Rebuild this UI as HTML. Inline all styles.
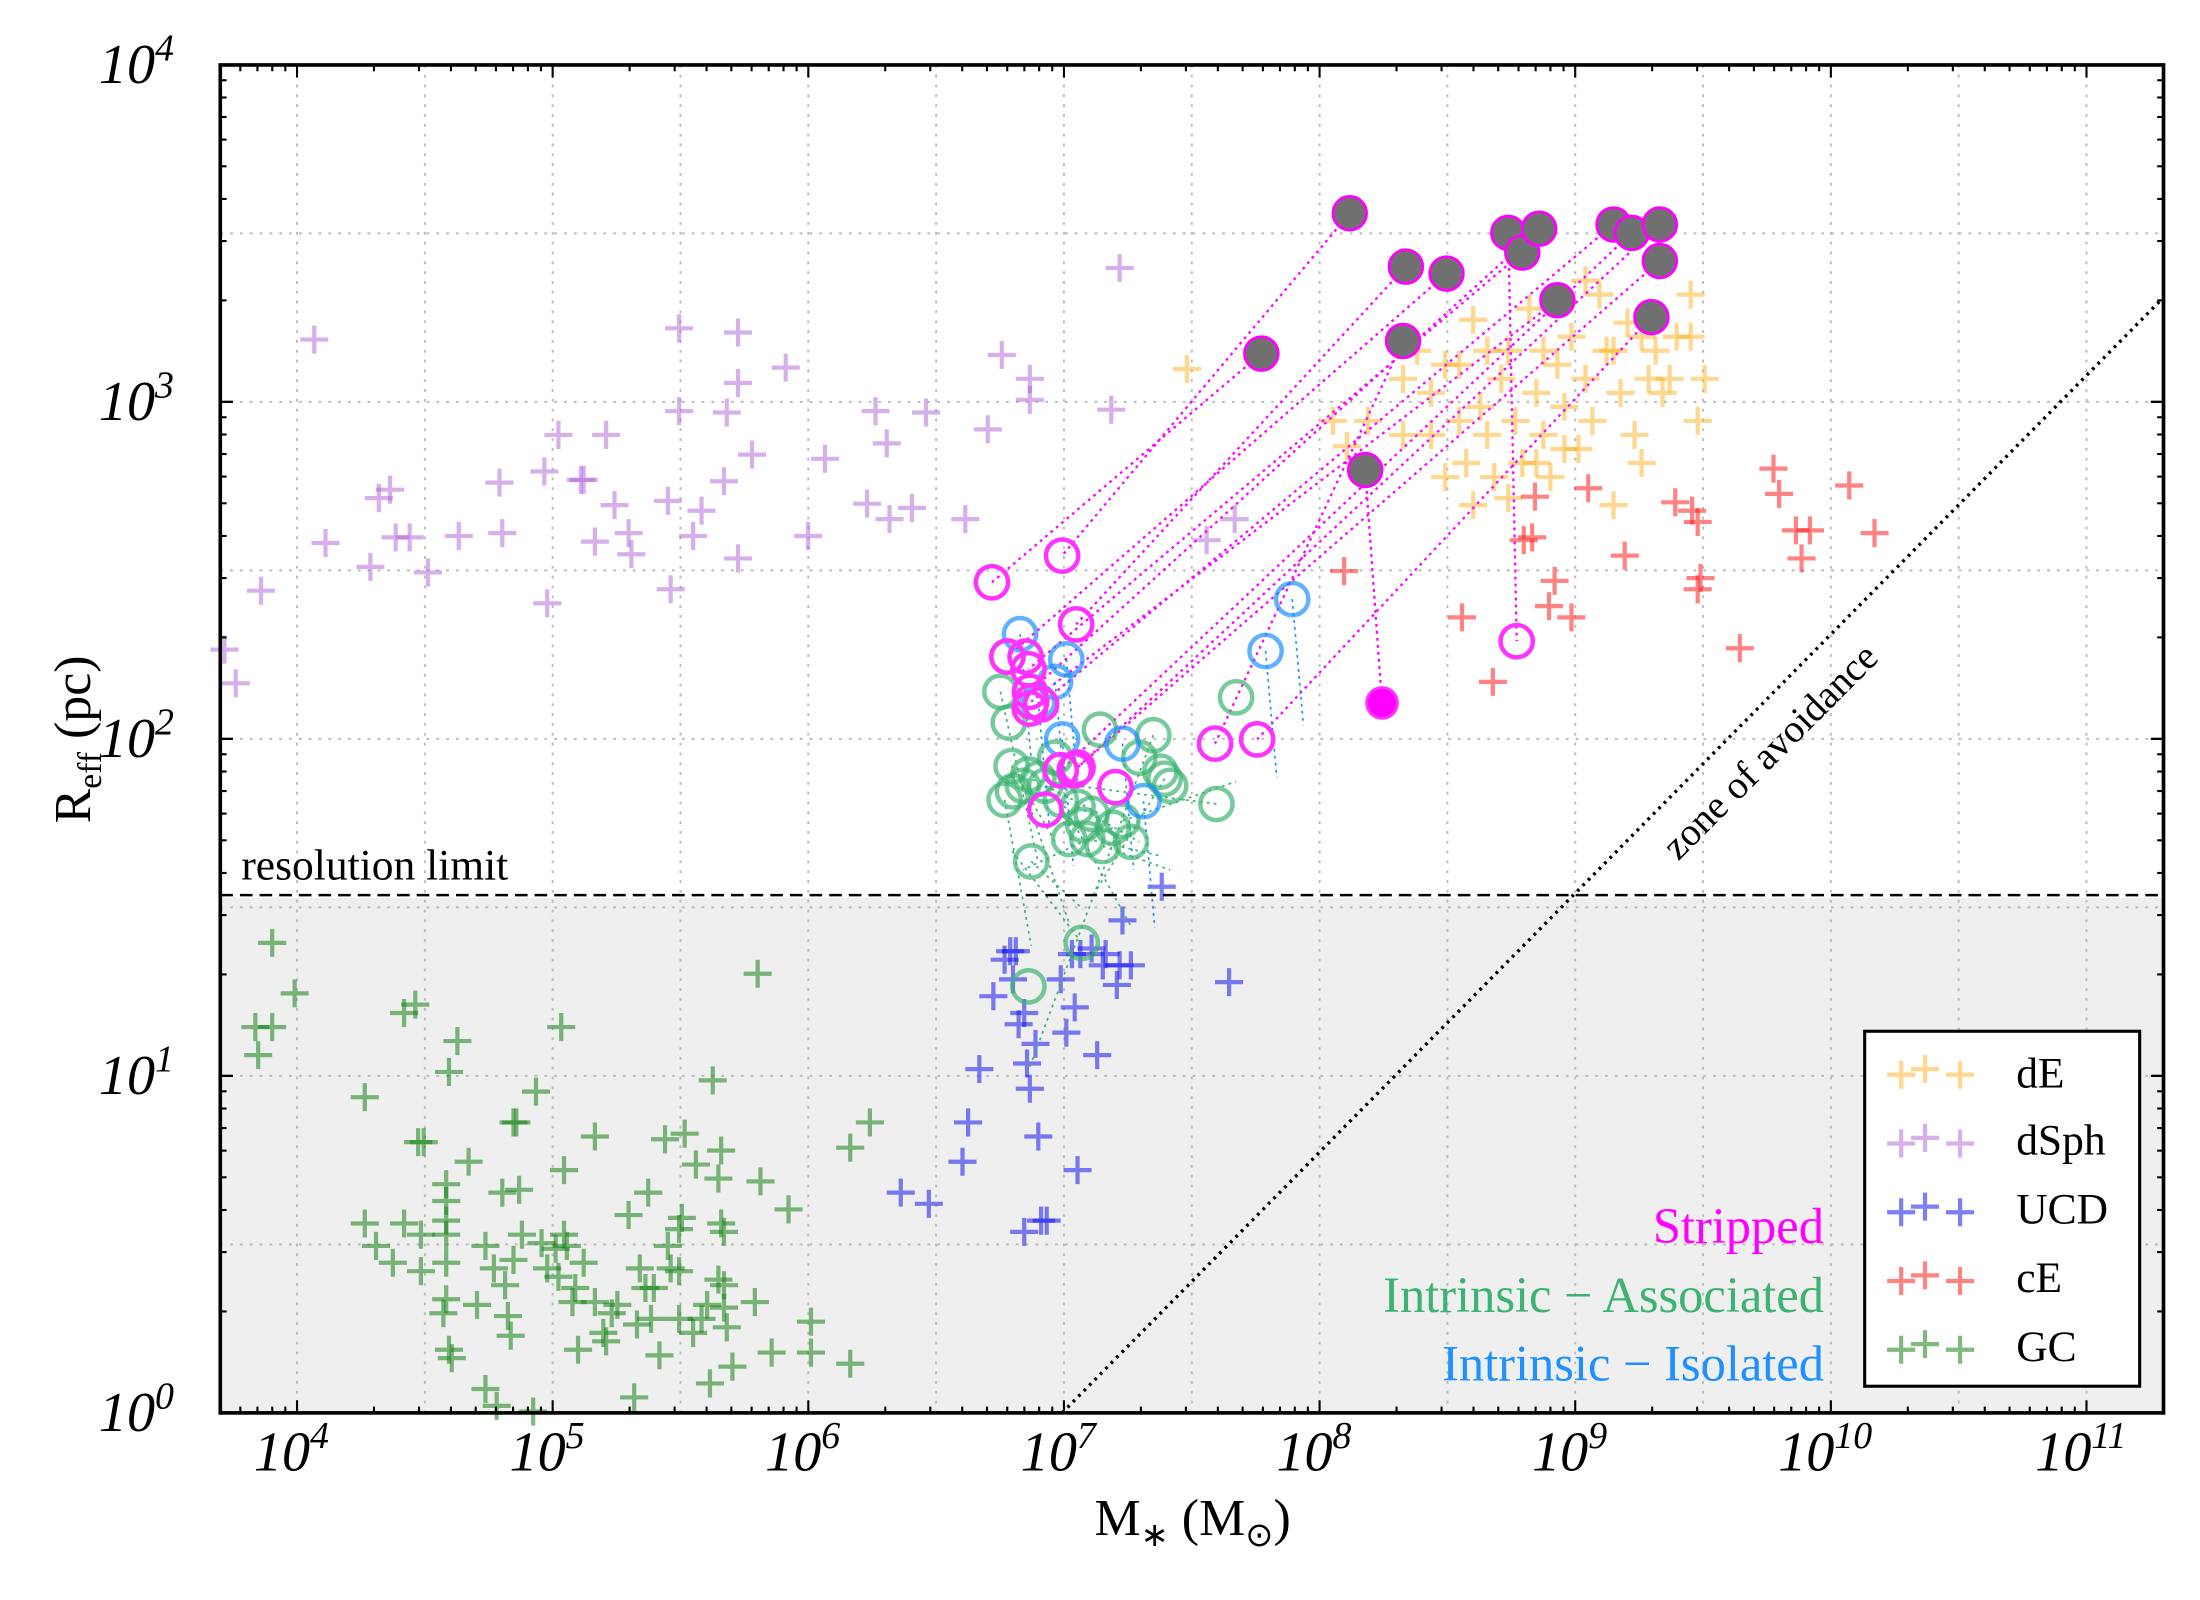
<!DOCTYPE html>
<html><head><meta charset="utf-8"><style>
html,body{margin:0;padding:0;background:#fff;}
svg{display:block;}
text{font-family:"Liberation Serif",serif;}
</style></head><body>
<svg id="s" width="2200" height="1600" viewBox="0 0 1568 1140.36" xmlns="http://www.w3.org/2000/svg">
<rect x="0" y="0" width="1568" height="1141" fill="#fff"/>
<rect x="157" y="640" width="1385" height="367" fill="#efefef"/>
<g id="grid"></g>
<g id="pts"></g>
<line x1="157" y1="638" x2="1542" y2="638" stroke="#000" stroke-width="1.8" stroke-dasharray="9,5"/>
<line x1="757" y1="1007" x2="1542" y2="212" stroke="#000" stroke-width="2.4" stroke-dasharray="2,3.5"/>
<g id="ticks"></g>
<rect x="157" y="46.3" width="1385" height="960.7" fill="none" stroke="#000" stroke-width="2.6"/>
<text x="172" y="627" font-size="31">resolution limit</text>
<text transform="translate(1268,542) rotate(-45)" text-anchor="middle" font-size="28">zone of avoidance</text>
<text x="1300" y="886" text-anchor="end" font-size="36" fill="#ff00ff">Stripped</text>
<text x="1300" y="935" text-anchor="end" font-size="36" fill="#3cb371">Intrinsic − Associated</text>
<text x="1300" y="984" text-anchor="end" font-size="36" fill="#1e90ff">Intrinsic − Isolated</text>
<rect x="1329" y="735" width="196" height="253" fill="#fff" stroke="#000" stroke-width="2.2"/>
<g id="leg"></g>
<text x="1437" y="775" font-size="31">dE</text>
<text x="1437" y="823" font-size="31">dSph</text>
<text x="1437" y="872" font-size="31">UCD</text>
<text x="1437" y="921" font-size="31">cE</text>
<text x="1437" y="970" font-size="31">GC</text>
<text transform="translate(64,527) rotate(-90)" text-anchor="middle" font-size="37">R<tspan font-size="24" dy="8">eff</tspan><tspan dy="-8"> (pc)</tspan></text>
<text x="850" y="1094" text-anchor="middle" font-size="37">M<tspan font-size="24" dy="8">∗</tspan><tspan dy="-8"> (M</tspan><tspan font-size="24" dy="8">⊙</tspan><tspan dy="-8">)</tspan></text>
<g id="lbl" font-style="italic" font-size="40"></g>
</svg>
<script>
const NS="http://www.w3.org/2000/svg";
function el(p,t,a){const e=document.createElementNS(NS,t);for(const k in a)e.setAttribute(k,a[k]);document.getElementById(p).appendChild(e);return e;}
const L=157,R=1542,T=46.3,B=1007;
const X=v=>211.7+(v-4)*182.2, Y=v=>1007-v*240.2;
for(let d=3.5;d<=11.3;d+=0.5){const x=X(d);if(x>L+2&&x<R-2)el("grid","line",{x1:x,y1:T,x2:x,y2:B,stroke:"#bbb","stroke-width":1.4,"stroke-dasharray":"2,5"});}
for(let d=0.5;d<4;d+=0.5){const y=Y(d);el("grid","line",{x1:L,y1:y,x2:R,y2:y,stroke:"#bbb","stroke-width":1.4,"stroke-dasharray":"2,5"});}
for(let d=3;d<=11;d++){for(let m=1;m<10;m++){const x=X(d+Math.log10(m));if(x<L||x>R)continue;const l=m==1?9:4.5;
el("ticks","line",{x1:x,y1:B,x2:x,y2:B-l,stroke:"#000","stroke-width":1.5});el("ticks","line",{x1:x,y1:T,x2:x,y2:T+l,stroke:"#000","stroke-width":1.5});}}
for(let d=0;d<4;d++){for(let m=1;m<=10;m++){const y=Y(d+Math.log10(m));const l=(m==1||m==10)?9:4.5;
el("ticks","line",{x1:L,y1:y,x2:L+l,y2:y,stroke:"#000","stroke-width":1.5});el("ticks","line",{x1:R,y1:y,x2:R-l,y2:y,stroke:"#000","stroke-width":1.5});}}
for(let d=4;d<=11;d++){const t=el("lbl","text",{x:X(d)-4,y:1048,"text-anchor":"middle"});t.textContent="10";const s=document.createElementNS(NS,"tspan");s.setAttribute("dy","-16");s.setAttribute("font-size","27");s.textContent=d;t.appendChild(s);}
for(let d=0;d<=4;d++){const t=el("lbl","text",{x:124,y:Y(d)+13,"text-anchor":"end"});t.textContent="10";const s=document.createElementNS(NS,"tspan");s.setAttribute("dy","-16");s.setAttribute("font-size","27");s.textContent=d;t.appendChild(s);}
function plus(g,x,y,c){el(g,"path",{d:`M${x-10} ${y}h20M${x} ${y-10}v20`,stroke:c,"stroke-width":3,fill:"none"});}
const cols={dE:"rgba(255,175,30,0.5)",dSph:"rgba(175,95,215,0.5)",UCD:"rgba(20,20,240,0.55)",cE:"rgba(255,30,30,0.55)",GC:"rgba(20,130,20,0.55)"};
const data={
dSph:[[160,463],[168,487],[186,421],[224,242],[232,387],[264,404],[270,355],[278,349],[282,383],[292,383],[305,408],[327,382],[356,344],[358,380],[390,430],[398,310],[388,336],[414,342],[416,342],[432,310],[438,360],[424,386],[448,380],[450,395],[476,357],[478,420],[484,234],[484,293],[494,382],[500,364],[516,343],[518,294],[526,237],[526,273],[526,398],[536,324],[560,262],[576,382],[588,327],[618,359],[624,293],[632,316],[634,370],[650,362],[660,294],[688,370],[704,306],[714,253],[734,270],[734,285],[792,292],[798,191],[860,385],[880,370]],
dE:[[846,263],[960,318],[975,300],[1000,270],[1010,250],[1020,280],[1030,260],[1040,300],[1045,330],[1050,228],[1055,290],[1060,310],[1065,340],[1070,270],[1075,250],[1080,300],[1085,330],[1090,220],[1095,280],[1100,310],[1105,340],[1110,260],[1115,290],[1120,240],[1125,320],[1130,270],[1135,300],[1140,210],[1145,250],[1150,360],[1155,280],[1160,230],[1165,310],[1170,330],[1175,270],[1180,250],[1185,280],[1190,270],[1195,240],[1205,210],[1205,240],[1210,300],[1215,270],[1040,260],[1020,310],[1100,250],[1130,200],[1060,250],[1075,355],[1095,330],[1115,320],[1150,250],[1170,240],[950,300],[1000,310],[1030,340],[1050,360]],
cE:[[958,407],[1042,440],[1064,486],[1092,383],[1094,354],[1104,432],[1108,414],[1120,440],[1132,348],[1158,396],[1194,358],[1206,364],[1210,372],[1212,412],[1210,420],[1240,462],[1264,334],[1268,352],[1280,378],[1290,378],[1284,398],[1318,346],[1336,380],[1086,385]],
UCD:[[642,850],[662,858],[686,828],[690,800],[698,762],[708,710],[716,684],[720,678],[722,698],[724,678],[726,730],[730,722],[732,758],[734,776],[738,744],[740,810],[746,870],[756,698],[760,736],[764,680],[766,718],[768,834],[770,680],[778,676],[782,752],[786,688],[788,680],[796,702],[798,688],[800,656],[806,688],[828,632],[876,700],[730,878],[742,870]],
GC:[[194,672],[182,732],[184,752],[194,732],[210,708],[260,782],[268,888],[288,722],[296,716],[298,814],[302,814],[288,872],[300,906],[316,936],[318,844],[318,856],[318,870],[318,880],[318,900],[318,926],[320,962],[322,968],[320,764],[326,742],[334,828],[346,888],[352,904],[358,850],[360,916],[362,938],[364,952],[366,898],[366,800],[368,800],[370,848],[372,880],[382,778],[386,886],[390,904],[396,890],[398,910],[400,732],[402,834],[402,880],[404,888],[408,928],[410,918],[412,962],[416,900],[424,810],[424,928],[430,950],[432,956],[436,936],[440,930],[448,866],[452,996],[454,944],[456,904],[460,918],[462,850],[464,940],[466,918],[470,966],[474,812],[476,888],[478,904],[484,906],[484,876],[484,940],[486,868],[488,808],[494,950],[496,830],[500,940],[504,930],[508,770],[512,840],[514,872],[514,820],[516,878],[512,912],[516,916],[516,932],[518,946],[522,974],[506,986],[538,928],[540,694],[542,842],[550,964],[562,862],[578,942],[578,964],[606,972],[606,818],[620,800],[354,1002],[380,1006],[346,990],[260,872],[280,900],[340,930],[300,880]]
};
for(const k in data)for(const p of data[k])plus("pts",p[0],p[1],cols[k]);
const filled=[[962,152],[899,252],[1002,190],[1031,195],[1075,166],[1085,180],[1097,163],[1110,214],[1150,160],[1163,166],[1183,160],[1183,186],[1177,226],[1000,243],[973,335]];
const open=[[757,396],[707,415],[767,445],[718,468],[1081,457],[733,477],[734,493],[735,500],[742,502],[756,549],[766,549],[768,547],[896,527],[866,530],[985,501]];
for(let i=0;i<filled.length;i++)el("pts","line",{x1:filled[i][0],y1:filled[i][1],x2:open[i][0],y2:open[i][1],stroke:"#ff00ff","stroke-width":1.6,"stroke-dasharray":"2,3"});
const assoc=[[713,493],[719,515],[721,546],[722,564],[729,560],[733,552],[735,614],[740,555],[745,560],[752,540],[756,570],[762,598],[768,575],[772,588],[775,598],[784,520],[786,603],[806,600],[800,585],[812,540],[822,524],[827,550],[830,555],[834,560],[867,573],[881,497],[771,672],[733,703],[793,590],[778,580],[716,570]];
const iso=[[727,452],[760,470],[752,486],[740,500],[800,530],[815,571],[902,464],[921,427],[757,527]];
for(let i=0;i<assoc.length;i+=2){const a=assoc[i],b=assoc[(i+7)%assoc.length];el("pts","line",{x1:a[0],y1:a[1],x2:b[0],y2:b[1]+60,stroke:"#3cb371","stroke-width":1.2,"stroke-dasharray":"2,3"});}
for(const p of iso)el("pts","line",{x1:p[0],y1:p[1],x2:p[0]+8,y2:p[1]+90,stroke:"#1e90ff","stroke-width":1.2,"stroke-dasharray":"2,3"});
for(const p of assoc)el("pts","circle",{cx:p[0],cy:p[1],r:11.5,fill:"none",stroke:"rgba(60,179,113,0.7)","stroke-width":3.2});
for(const p of iso)el("pts","circle",{cx:p[0],cy:p[1],r:11.5,fill:"none",stroke:"rgba(30,144,255,0.7)","stroke-width":3.2});
for(const p of open.slice(0,14))el("pts","circle",{cx:p[0],cy:p[1],r:11.5,fill:"none",stroke:"#ff33ff","stroke-width":3.2});
[[718,468],[731,468],[734,505],[745,577],[795,561],[756,549]].forEach(p=>el("pts","circle",{cx:p[0],cy:p[1],r:11.5,fill:"none",stroke:"#ff33ff","stroke-width":3.2}));
el("pts","circle",{cx:985,cy:501,r:11,fill:"#ff00ff",stroke:"#ff33ff","stroke-width":2});
for(const p of filled)el("pts","circle",{cx:p[0],cy:p[1],r:12,fill:"#707070",stroke:"#ff00ff","stroke-width":2});
const lc=[cols.dE,cols.dSph,cols.UCD,cols.cE,cols.GC];
for(let i=0;i<5;i++){const y=764+i*49;plus("leg",1355,y+2,lc[i]);plus("leg",1372,y-2,lc[i]);plus("leg",1397,y+2,lc[i]);}
</script>
</body></html>
